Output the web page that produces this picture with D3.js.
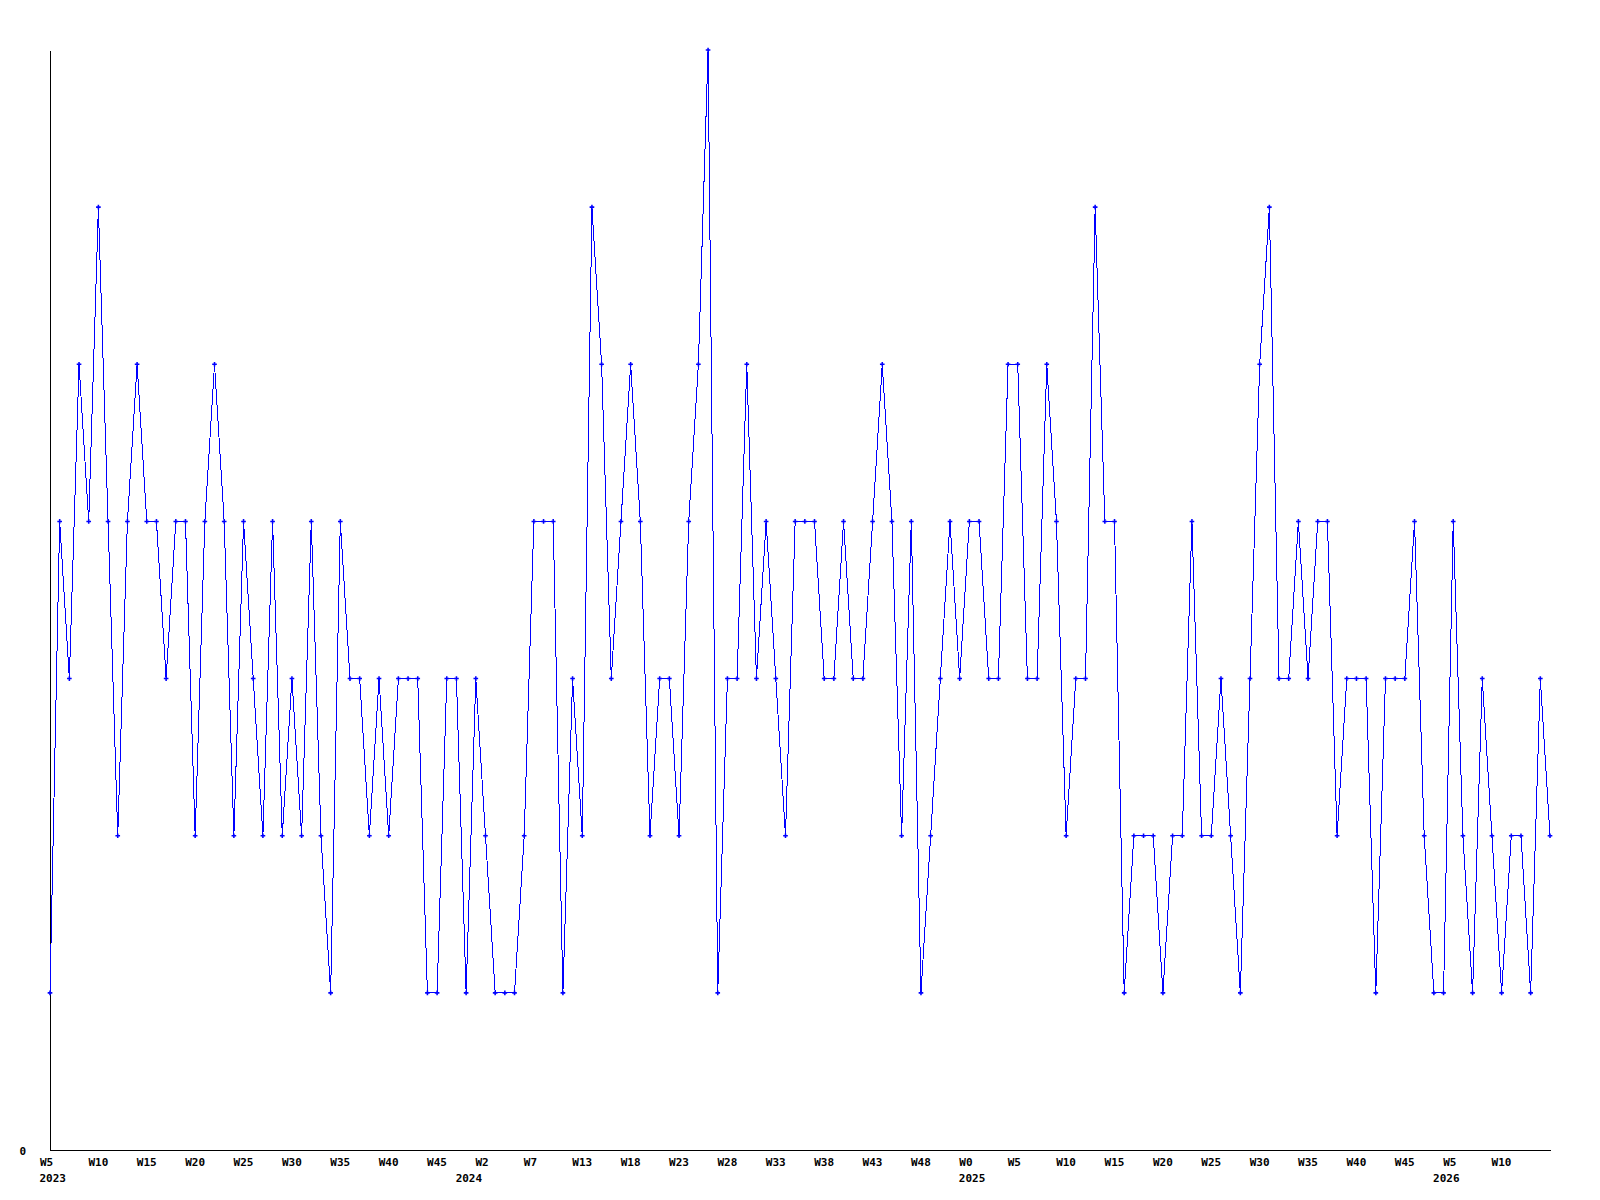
<!DOCTYPE html>
<html>
<head>
<meta charset="utf-8">
<script src="https://cdn.jsdelivr.net/npm/d3@7"></script>
<style>
  body { margin: 0; background: #fff; }
  svg text { font-family: "DejaVu Sans Mono", "Liberation Mono", monospace; font-size: 11px; font-weight: bold; fill: #000; }
</style>
</head>
<body>
<svg width="1600" height="1200"></svg>
<script>
// weekly values, one per point (W5 2023 onwards)
var values = [
  1,4,3,5,4,6,4,2,4,5,4,4,3,4,4,2,4,5,4,2,4,3,2,4,2,3,2,
  4,2,1,4,3,3,2,3,2,3,3,3,1,1,3,3,1,3,2,1,1,1,2,4,4,4,
  1,3,2,6,5,3,4,5,4,2,3,3,2,4,5,7,1,3,3,5,3,4,3,2,4,
  4,4,3,3,4,3,3,4,5,4,2,4,1,2,3,4,3,4,4,3,3,5,5,3,3,5,
  4,2,3,3,6,4,4,1,2,2,2,1,2,2,4,2,2,3,2,1,3,5,6,3,3,4,
  3,4,4,2,3,3,3,1,3,3,3,4,2,1,1,4,2,1,3,2,1,2,2,1,3,2
];

// one label every 5 points
var tickLabels = ["W5","W10","W15","W20","W25","W30","W35","W40","W45",
  "W2","W7","W13","W18","W23","W28","W33","W38","W43","W48",
  "W0","W5","W10","W15","W20","W25","W30","W35","W40","W45",
  "W5","W10"];

// year labels and the point where each year starts
var years = ["2023", "2024", "2025", "2026"];
var yearStart = [0, 43, 95, 144];

var marge = { top: 50, bottom: 50, left: 50, right: 50 };
var svg = d3.select("svg");
var width = +svg.attr("width");
var height = +svg.attr("height");

var x = d3.scaleLinear()
    .domain([0, values.length - 1])
    .range([marge.left, width - marge.right]);

var y = d3.scaleLinear()
    .domain([0, d3.max(values)])
    .range([height - marge.bottom, marge.top]);

// x axis
var tickIdx = tickLabels.map(function (d, i) { return i * 5; });
var xAxis = svg.append("g")
    .attr("transform", "translate(0," + (height - marge.bottom) + ")")
    .call(d3.axisBottom(x).tickValues(tickIdx).tickSize(0).tickSizeOuter(0)
        .tickFormat(function (d, i) { return tickLabels[i]; }));
xAxis.select(".domain").attr("stroke", "#000").attr("shape-rendering", "crispEdges");
xAxis.selectAll(".tick text")
    .attr("text-anchor", "start")
    .attr("x", -10.5)
    .attr("y", 16)
    .attr("dy", null);

xAxis.selectAll(".year")
    .data(years)
    .enter()
    .append("text")
    .attr("class", "year")
    .attr("text-anchor", "start")
    .attr("x", function (d, i) { return x(yearStart[i]) - 10.5; })
    .attr("y", 31.5)
    .text(function (d) { return d; });

// y axis
var yAxis = svg.append("g")
    .attr("transform", "translate(" + marge.left + ",0)")
    .call(d3.axisLeft(y).tickValues([0]).tickSize(0).tickSizeOuter(0).tickPadding(24)
        .tickFormat(d3.format("d")));
yAxis.select(".domain").attr("stroke", "#000").attr("shape-rendering", "crispEdges");
yAxis.selectAll(".tick text").attr("dy", "0.35em").attr("y", 1);

// line
var line = d3.line()
    .x(function (d, i) { return x(i); })
    .y(function (d) { return y(d); });

svg.append("path")
    .datum(values)
    .attr("d", line)
    .attr("fill", "none")
    .attr("stroke", "#0000ff")
    .attr("stroke-width", 1)
    .attr("shape-rendering", "crispEdges");

// point markers
svg.append("g")
    .selectAll("path")
    .data(values)
    .enter()
    .append("path")
    .attr("transform", function (d, i) { return "translate(" + x(i) + "," + y(d) + ")"; })
    .attr("d", d3.symbol(d3.symbolCross, 12))
    .attr("fill", "#0000ff");
</script>
</body>
</html>
